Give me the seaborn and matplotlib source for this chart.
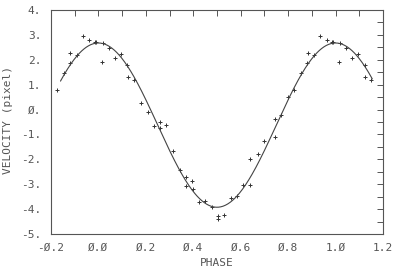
import numpy as np
import pandas as pd
import matplotlib
matplotlib.use("Agg")
import matplotlib.pyplot as plt
import seaborn as sns
from matplotlib.ticker import MultipleLocator, FuncFormatter

# phase-folded measurements (phase in [0,1)), read from the picture
phase = [0.015, 0.018, 0.043, 0.068, 0.096, 0.122, 0.125, 0.151, 0.179, 0.207,
         0.234, 0.259, 0.261, 0.287, 0.314, 0.344, 0.369, 0.370, 0.395, 0.397,
         0.424, 0.451, 0.478, 0.506, 0.506, 0.529, 0.558, 0.584, 0.611, 0.640,
         0.640, 0.671, 0.700, 0.744, 0.744, 0.771, 0.800, 0.826, 0.855, 0.881,
         0.882, 0.908, 0.936, 0.962, 0.986, 0.989]
velocity = [1.92, 2.66, 2.48, 2.06, 2.25, 1.81, 1.31, 1.18, 0.27, -0.08,
            -0.65, -0.50, -0.73, -0.63, -1.65, -2.43, -2.69, -3.07, -2.88, -3.20,
            -3.73, -3.66, -3.91, -4.26, -4.41, -4.25, -3.56, -3.46, -3.04, -3.03,
            -1.98, -1.80, -1.25, -1.10, -0.38, -0.20, 0.51, 0.77, 1.46, 1.88,
            2.29, 2.19, 2.96, 2.80, 2.71, 2.73]

# fitted sinusoid parameters: v = gamma + K cos(2 pi phase)
gamma = -0.625
K = 3.30
fit_range = (-0.16, 1.155)
shown_range = (-0.18, 1.16)

x_ticks = [-0.2, 0.0, 0.2, 0.4, 0.6, 0.8, 1.0, 1.2]
y_ticks = [-5, -4, -3, -2, -1, 0, 1, 2, 3, 4]

# repeat phase-folded points over the displayed phase window
rows = []
for shift in (-1, 0, 1):
    for p, v in zip(phase, velocity):
        q = p + shift
        if shown_range[0] <= q <= shown_range[1]:
            rows.append((q, v))
pts = pd.DataFrame(rows, columns=["phase", "velocity"])

ph = np.linspace(fit_range[0], fit_range[1], 400)
curve = pd.DataFrame({"phase": ph, "velocity": gamma + K * np.cos(2 * np.pi * ph)})

sns.set_style("white")
plt.rcParams["font.family"] = ["DejaVu Sans Mono", "DejaVu Sans"]

fig = plt.figure(figsize=(4.0, 2.72), dpi=100)
ax = fig.add_axes([0.1275, 0.1397, 0.83, 0.8235])

grey = "#555555"
sns.lineplot(data=curve, x="phase", y="velocity", ax=ax, color="#444444",
             linewidth=0.8, sort=False)
sns.scatterplot(data=pts, x="phase", y="velocity", ax=ax, marker="+",
                color="#333333", s=9, linewidth=0.7)

ax.set_xlim(-0.2, 1.2)
ax.set_ylim(-5, 4)
ax.set_xticks(x_ticks)
ax.set_yticks(y_ticks)
ax.xaxis.set_minor_locator(MultipleLocator(0.1))
ax.yaxis.set_minor_locator(MultipleLocator(0.5))

ax.xaxis.set_major_formatter(FuncFormatter(lambda v, p: f"{v:.1f}".replace("0", "Ø").replace("-Ø.Ø", "Ø.Ø")))
ax.yaxis.set_major_formatter(FuncFormatter(lambda v, p: f"{int(round(v))}.".replace("0", "Ø")))

ax.tick_params(axis="both", which="both", direction="in", top=True, right=True,
               length=4, width=0.7, color=grey, labelsize=8, labelcolor=grey)
ax.tick_params(axis="x", which="major", pad=6.5)
ax.tick_params(axis="y", which="major", pad=7)
for s in ax.spines.values():
    s.set_color(grey)
    s.set_linewidth(0.8)

ax.set_xlabel("PHASE", fontsize=8, color=grey)
ax.set_ylabel("VELOCITY (pixel)", fontsize=8, color=grey)
ax.xaxis.set_label_coords(0.5, -0.105)
ax.yaxis.set_label_coords(-0.114, 0.511)
ax.yaxis.label.set_verticalalignment("top")
ax.yaxis.set_label_coords(-0.145, 0.511)

fig.savefig("out.png", dpi=100)
